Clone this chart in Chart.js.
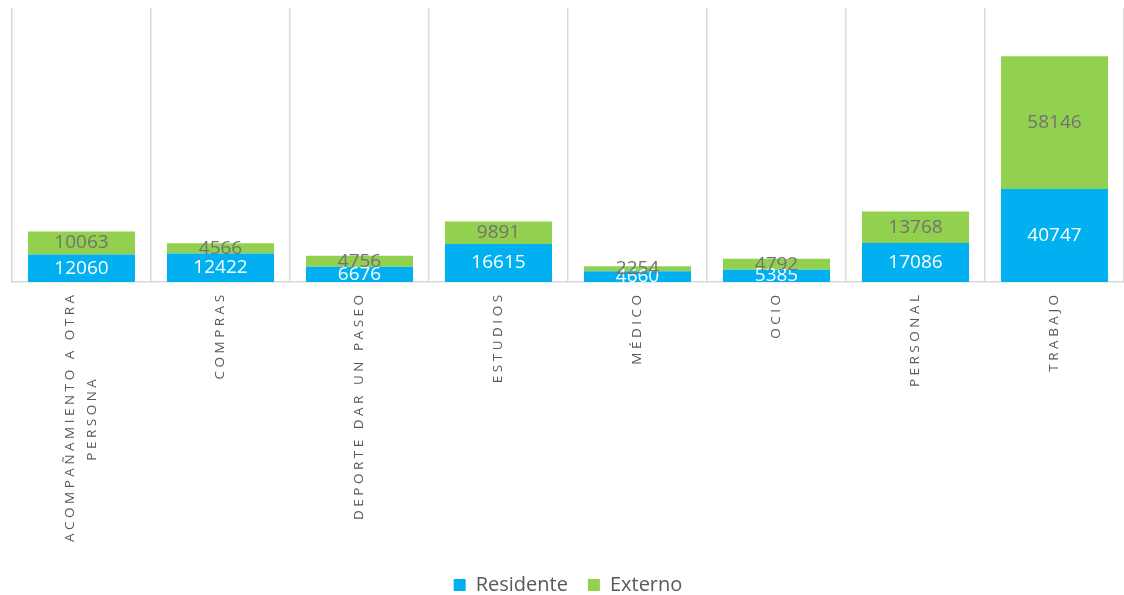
<!DOCTYPE html>
<html lang="es">
<head>
<meta charset="utf-8">
<title>Residente / Externo por motivo</title>
<script src="https://cdn.jsdelivr.net/npm/chart.js@4/dist/chart.umd.min.js"></script>
<style>
    html, body { margin: 0; padding: 0; background: #ffffff; }
    #wrap { position: relative; width: 1124px; height: 595px; }
</style>
</head>
<body>
<div id="wrap"><canvas id="motivosChart"></canvas></div>
<script>
const categorias = [
    ['ACOMPAÑAMIENTO A OTRA', 'PERSONA'],
    'COMPRAS',
    'DEPORTE DAR UN PASEO',
    'ESTUDIOS',
    'MÉDICO',
    'OCIO',
    'PERSONAL',
    'TRABAJO'
];
const residente = [12060, 12422, 6676, 16615, 4660, 5385, 17086, 40747];
const externo = [10063, 4566, 4756, 9891, 2254, 4792, 13768, 58146];

const TICK_SIZE = 13.5;
const medidor = document.createElement('canvas').getContext('2d');
medidor.font = TICK_SIZE + 'px "Open Sans"';

// letras espaciadas como en el original
function espaciar(txt) {
    return txt.split('').join(' ');
}

// centra las líneas cortas añadiendo espacios al final (las etiquetas giradas van alineadas a la derecha)
function etiquetaEje(label) {
    if (!Array.isArray(label)) return espaciar(label);
    const lineas = label.map(espaciar);
    const anchos = lineas.map(l => medidor.measureText(l).width);
    const maxAncho = Math.max(...anchos);
    const esp = medidor.measureText('\u00a0').width;
    return lineas.map((l, i) => {
        const n = Math.round((maxAncho - anchos[i]) / 2 / esp);
        return l + '\u00a0'.repeat(n);
    });
}

// las etiquetas de varias líneas quedan centradas sobre la categoría
const centrarMultilinea = {
    id: 'centrarMultilinea',
    beforeDraw(chart) {
        const items = chart.scales.x.getLabelItems();
        items.forEach(it => {
            if (it._centrado || !Array.isArray(it.label)) return;
            const lh = it.font.lineHeight;
            it.options.translation[0] -= (it.label.length - 1) * lh / 2;
            it._centrado = true;
        });
    }
};

const etiquetasValores = {
    id: 'etiquetasValores',
    afterDatasetsDraw(chart) {
        const ctx = chart.ctx;
        ctx.save();
        ctx.font = '19px "Open Sans"';
        ctx.textAlign = 'center';
        ctx.textBaseline = 'middle';
        chart.data.datasets.forEach((ds, i) => {
            const meta = chart.getDatasetMeta(i);
            ctx.fillStyle = i === 0 ? '#ffffff' : '#767171';
            meta.data.forEach((bar, j) => {
                ctx.fillText(String(ds.data[j]), bar.x, (bar.y + bar.base) / 2);
            });
        });
        ctx.restore();
    }
};

new Chart(document.getElementById('motivosChart'), {
    type: 'bar',
    data: {
        labels: categorias,
        datasets: [
            {
                label: 'Residente',
                data: residente,
                backgroundColor: '#00b0f0',
                borderWidth: 0,
                categoryPercentage: 1,
                barPercentage: 0.77
            },
            {
                label: 'Externo',
                data: externo,
                backgroundColor: '#92d050',
                borderWidth: 0,
                categoryPercentage: 1,
                barPercentage: 0.77
            }
        ]
    },
    options: {
        responsive: true,
        maintainAspectRatio: false,
        animation: false,
        layout: {
            padding: { left: 12, right: 0, top: 8, bottom: -10 }
        },
        plugins: {
            legend: {
                position: 'bottom',
                labels: {
                    boxWidth: 12,
                    boxHeight: 12,
                    padding: 20,
                    color: '#595959',
                    font: { family: 'Open Sans', size: 20 }
                }
            },
            tooltip: { enabled: false }
        },
        scales: {
            x: {
                stacked: true,
                grid: {
                    offset: true,
                    color: '#d9d9d9',
                    lineWidth: 1.5,
                    drawTicks: false
                },
                border: {
                    color: '#d9d9d9',
                    width: 1.5
                },
                ticks: {
                    minRotation: 90,
                    maxRotation: 90,
                    autoSkip: false,
                    padding: 13,
                    color: '#595959',
                    font: { family: 'Open Sans', size: TICK_SIZE, lineHeight: 1.65 },
                    callback(value) {
                        return etiquetaEje(this.getLabelForValue(value));
                    }
                }
            },
            y: {
                stacked: true,
                display: false,
                min: 0,
                max: 120000
            }
        }
    },
    plugins: [centrarMultilinea, etiquetasValores]
});
</script>
</body>
</html>
